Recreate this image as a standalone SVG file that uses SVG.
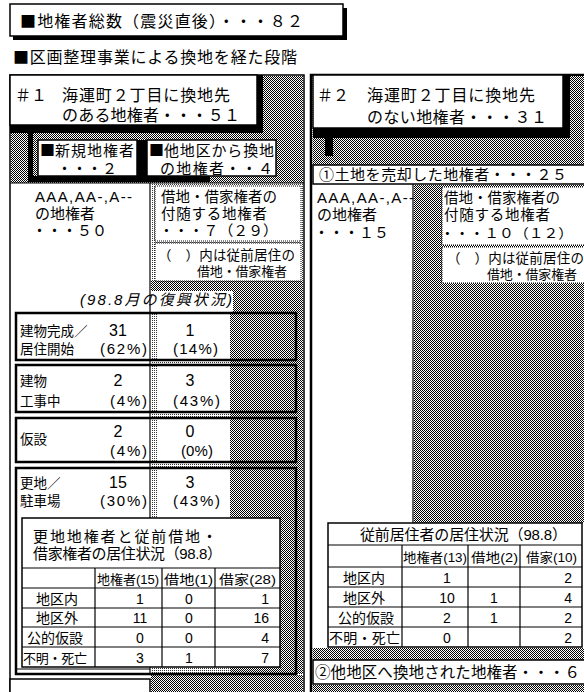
<svg xmlns="http://www.w3.org/2000/svg" width="584" height="692" viewBox="0 0 584 692">
<defs>
<pattern id="dk" width="2" height="2" patternUnits="userSpaceOnUse">
<rect width="2" height="2" fill="#fff"/>
<rect width="1" height="1" fill="#000"/>
<rect x="1" y="1" width="1" height="1" fill="#000"/>
</pattern>
<pattern id="lt" width="2" height="2" patternUnits="userSpaceOnUse">
<rect width="2" height="2" fill="#fff"/>
<rect width="1" height="1" fill="#333"/>
</pattern>
<style>
text { font-family: "Liberation Sans", "Noto Sans CJK JP", "Noto Sans CJK SC", sans-serif; fill: #000; }
.sq { font-family: "Noto Sans CJK JP", "Noto Sans CJK SC", sans-serif; }
.f16 { font-size: 16px; }
.f155 { font-size: 15.5px; }
.f15 { font-size: 15px; }
.f145 { font-size: 14.5px; }
.f14 { font-size: 14px; }
.f135 { font-size: 13.5px; }
.f13 { font-size: 13px; }
.it { font-style: italic; }
.c { text-anchor: middle; }
.r { text-anchor: end; }
.box { fill: #fff; stroke: #000; stroke-width: 1.5; }
.thick { fill: none; stroke: #000; stroke-width: 2.5; }
.dot { fill: #fff; stroke: #000; stroke-width: 1; stroke-dasharray: 1 1; }
.dk { fill: url(#dk); }
.lt { fill: url(#lt); }
.blk { fill: #000; }
.ln { stroke: #000; stroke-width: 1.2; fill: none; }
.wh { fill: #fff; }
</style>
</defs>
<rect width="584" height="692" fill="#fff"/>

<g id="total">
<rect class="blk" x="13" y="8" width="334" height="32"/>
<rect class="box" x="10" y="4" width="333" height="32"/>
<text class="f16" x="20" y="27" textLength="283" lengthAdjust="spacing"><tspan class="sq">■</tspan>地権者総数（震災直後）・・・８２</text>
</g>

<g id="section-title">
<text class="f16" x="13" y="63" textLength="284" lengthAdjust="spacing"><tspan class="sq">■</tspan>区画整理事業による換地を経た段階</text>
</g>

<g id="panel-1">
<rect x="10" y="75" width="294" height="630" fill="#fff" stroke="#000" stroke-width="1.5"/>
<rect class="dk" x="11" y="76" width="292" height="107"/>
<rect class="blk" x="10" y="75" width="253" height="58"/>
<rect class="blk" x="28" y="133" width="5" height="48"/>
<rect class="blk" x="28" y="176" width="182" height="6"/>
<rect class="blk" x="137" y="140" width="10" height="42"/>
<line class="ln" x1="10" y1="183" x2="304" y2="183"/>
<rect class="lt" x="151" y="184" width="152" height="97"/>
<rect class="dk" x="151" y="281" width="152" height="10"/>
<rect class="dk" x="233" y="291" width="70" height="22"/>
<rect class="lt" x="151" y="313" width="79" height="361"/>
<rect class="dk" x="230" y="313" width="73" height="361"/>
<rect class="dk" x="151" y="675" width="152" height="20"/>
<line class="ln" x1="150" y1="183" x2="150" y2="674"/>
<rect class="box" x="10" y="679" width="140" height="20"/>
</g>

<g id="p1-header">
<rect class="box" x="10" y="75" width="247" height="50"/>
<text class="f16"><tspan x="15" y="101">＃１</tspan><tspan x="62" y="101" textLength="168" lengthAdjust="spacing">海運町２丁目に換地先</tspan><tspan x="62" y="121" textLength="178" lengthAdjust="spacing">のある地権者・・・５１</tspan></text>
</g>

<g id="p1-new-owners">
<rect class="box" x="38" y="140" width="99" height="36"/>
<text class="f15"><tspan x="40" y="156" class="sq">■</tspan><tspan textLength="79" lengthAdjust="spacing">新規地権者</tspan><tspan x="57" y="174">・・・２</tspan></text>
</g>

<g id="p1-other-district">
<rect class="box" x="147" y="140" width="129" height="36"/>
<text class="f15"><tspan x="149" y="156" class="sq">■</tspan><tspan textLength="110" lengthAdjust="spacing">他地区から換地</tspan><tspan x="160" y="174" textLength="113" lengthAdjust="spacing">の地権者・・４</tspan></text>
</g>

<g id="p1-aaa">
<text class="f15"><tspan x="35" y="202" textLength="97" lengthAdjust="spacing">AAA,AA-,A--</tspan><tspan x="35" y="219">の地権者</tspan><tspan x="32" y="236">・・・５０</tspan></text>
</g>

<g id="p1-lease">
<rect class="dot" x="155" y="186" width="146" height="55"/>
<text class="f145"><tspan x="161" y="202" textLength="116" lengthAdjust="spacingAndGlyphs">借地・借家権者の</tspan><tspan x="161" y="219" textLength="106" lengthAdjust="spacing">付随する地権者</tspan><tspan x="159" y="236" textLength="119" lengthAdjust="spacingAndGlyphs">・・・７（２９）</tspan></text>
</g>

<g id="p1-note">
<rect class="dot" x="155" y="243" width="146" height="38"/>
<text class="f135"><tspan x="158" y="260" textLength="137" lengthAdjust="spacing">（　）内は従前居住の</tspan><tspan x="197" y="276" textLength="90" lengthAdjust="spacing" style="font-size:13px">借地・借家権者</tspan></text>
</g>

<g id="recovery-title">
<text class="f15 it" x="80" y="305" textLength="152" lengthAdjust="spacing">(98.8月の復興状況)</text>
</g>

<g id="row-1">
<rect class="wh" x="158" y="314" width="72" height="45"/>
<rect class="thick" x="16" y="313" width="280" height="47"/>
<text class="f135"><tspan x="20" y="336">建物完成／</tspan><tspan x="20" y="354">居住開始</tspan></text>
<text class="f15"><tspan class="c" x="118" y="336" style="font-size:16px">31</tspan><tspan x="100" y="354" textLength="47" lengthAdjust="spacing">(62%)</tspan></text>
<text class="f15"><tspan class="c" x="190" y="336" style="font-size:16px">1</tspan><tspan x="173" y="354" textLength="45" lengthAdjust="spacing">(14%)</tspan></text>
</g>

<g id="row-2">
<rect class="wh" x="158" y="366" width="72" height="45"/>
<rect class="thick" x="16" y="365" width="280" height="47"/>
<text class="f135"><tspan x="20" y="386">建物</tspan><tspan x="20" y="406">工事中</tspan></text>
<text class="f15"><tspan class="c" x="118" y="386" style="font-size:16px">2</tspan><tspan x="110" y="406" textLength="37" lengthAdjust="spacing">(4%)</tspan></text>
<text class="f15"><tspan class="c" x="190" y="386" style="font-size:16px">3</tspan><tspan x="173" y="406" textLength="47" lengthAdjust="spacing">(43%)</tspan></text>
</g>

<g id="row-3">
<rect class="wh" x="158" y="419" width="72" height="42"/>
<rect class="thick" x="16" y="418" width="280" height="44"/>
<text class="f135" x="20" y="444">仮設</text>
<text class="f15"><tspan class="c" x="118" y="437" style="font-size:16px">2</tspan><tspan x="110" y="456" textLength="37" lengthAdjust="spacing">(4%)</tspan></text>
<text class="f15"><tspan class="c" x="190" y="437" style="font-size:16px">0</tspan><tspan x="181" y="456" textLength="32" lengthAdjust="spacing">(0%)</tspan></text>
</g>

<g id="row-4">
<rect class="wh" x="158" y="469" width="72" height="48"/>
<rect class="wh" x="17" y="517" width="8" height="156"/>
<rect class="thick" x="16" y="468" width="280" height="206"/>
<line class="ln" x1="16" y1="669" x2="150" y2="669"/>
<text class="f135"><tspan x="20" y="488">更地／</tspan><tspan x="20" y="506">駐車場</tspan></text>
<text class="f15"><tspan class="c" x="118" y="488" style="font-size:16px">15</tspan><tspan x="100" y="506" textLength="47" lengthAdjust="spacing">(30%)</tspan></text>
<text class="f15"><tspan class="c" x="190" y="488" style="font-size:16px">3</tspan><tspan x="173" y="506" textLength="47" lengthAdjust="spacing">(43%)</tspan></text>
</g>

<g id="table-1">
<rect class="box" x="22" y="518" width="258" height="149"/>
<line class="ln" x1="22" y1="568" x2="280" y2="568"/>
<line class="ln" x1="22" y1="588" x2="280" y2="588"/>
<line class="ln" x1="22" y1="608" x2="280" y2="608"/>
<line class="ln" x1="22" y1="627" x2="280" y2="627"/>
<line class="ln" x1="22" y1="647" x2="280" y2="647"/>
<line class="ln" x1="95" y1="568" x2="95" y2="667"/>
<line class="ln" x1="162" y1="568" x2="162" y2="667"/>
<line class="ln" x1="215" y1="568" x2="215" y2="667"/>
<text class="f15"><tspan x="33" y="542" textLength="184" lengthAdjust="spacing">更地地権者と従前借地・</tspan><tspan x="33" y="559" textLength="189" lengthAdjust="spacing">借家権者の居住状況（98.8）</tspan></text>
<text class="f13"><tspan x="97" y="584" textLength="62" lengthAdjust="spacingAndGlyphs">地権者(15)</tspan><tspan x="164" y="584" textLength="49" lengthAdjust="spacingAndGlyphs">借地(1)</tspan><tspan x="219" y="584" textLength="57" lengthAdjust="spacingAndGlyphs">借家(28)</tspan></text>
<text class="f14"><tspan class="c" x="57" y="604">地区内</tspan><tspan class="c" x="57" y="623">地区外</tspan><tspan class="c" x="55" y="643">公的仮設</tspan><tspan x="23" y="663" textLength="64" lengthAdjust="spacing" style="font-size:13px">不明・死亡</tspan></text>
<text class="f14 c"><tspan x="140" y="604">1</tspan><tspan x="140" y="623">11</tspan><tspan x="140" y="643">0</tspan><tspan x="140" y="663">3</tspan></text>
<text class="f14 c"><tspan x="189" y="604">0</tspan><tspan x="189" y="623">0</tspan><tspan x="189" y="643">0</tspan><tspan x="189" y="663">1</tspan></text>
<text class="f14 r"><tspan x="269" y="604">1</tspan><tspan x="269" y="623">16</tspan><tspan x="269" y="643">4</tspan><tspan x="269" y="663">7</tspan></text>
</g>

<g id="panel-2">
<rect x="311" y="75" width="280" height="630" fill="#fff" stroke="#000" stroke-width="2.5"/>
<rect class="dk" x="312.5" y="76" width="272" height="89"/>
<rect class="blk" x="313" y="75" width="257" height="63"/>
<rect class="blk" x="325" y="138" width="8" height="18"/>
<rect class="dk" x="414" y="185" width="170" height="338"/>
<line class="ln" x1="413" y1="184" x2="413" y2="523"/>
<rect class="dk" x="312.5" y="648" width="272" height="12"/>
<rect class="dk" x="312.5" y="685" width="272" height="7"/>
</g>

<g id="p2-header">
<rect class="box" x="313" y="75" width="250" height="53"/>
<text class="f16"><tspan x="317" y="101">＃２</tspan><tspan x="367" y="101" textLength="168" lengthAdjust="spacing">海運町２丁目に換地先</tspan><tspan x="367" y="123" textLength="180" lengthAdjust="spacing">のない地権者・・・３１</tspan></text>
</g>

<g id="p2-sold">
<rect class="box" x="313" y="165" width="275" height="19"/>
<text class="f15" x="319" y="180" textLength="248" lengthAdjust="spacing">①土地を売却した地権者・・・２５</text>
</g>

<g id="p2-aaa">
<text class="f15"><tspan x="317" y="203" textLength="97" lengthAdjust="spacing">AAA,AA-,A--</tspan><tspan x="317" y="220">の地権者</tspan><tspan x="314" y="238">・・・１５</tspan></text>
</g>

<g id="p2-lease">
<rect class="dot" x="442" y="187" width="145" height="58"/>
<text class="f145"><tspan x="444" y="203" textLength="116" lengthAdjust="spacingAndGlyphs">借地・借家権者の</tspan><tspan x="444" y="220" textLength="106" lengthAdjust="spacing">付随する地権者</tspan><tspan x="440" y="238" textLength="133" lengthAdjust="spacingAndGlyphs" style="font-size:13.5px">・・・１０（１２）</tspan></text>
</g>

<g id="p2-note">
<rect class="dot" x="442" y="247" width="145" height="36"/>
<text class="f135"><tspan x="447" y="263" textLength="137" lengthAdjust="spacing">（　）内は従前居住の</tspan><tspan x="487" y="279" textLength="90" lengthAdjust="spacing" style="font-size:13px">借地・借家権者</tspan></text>
</g>

<g id="table-2">
<rect class="box" x="328" y="523" width="254" height="124"/>
<line class="ln" x1="328" y1="545" x2="582" y2="545"/>
<line class="ln" x1="328" y1="567" x2="582" y2="567"/>
<line class="ln" x1="328" y1="587" x2="582" y2="587"/>
<line class="ln" x1="328" y1="607" x2="582" y2="607"/>
<line class="ln" x1="328" y1="627" x2="582" y2="627"/>
<line class="ln" x1="402" y1="545" x2="402" y2="647"/>
<line class="ln" x1="468" y1="545" x2="468" y2="647"/>
<line class="ln" x1="520" y1="545" x2="520" y2="647"/>
<text class="f15" x="360" y="540" textLength="207" lengthAdjust="spacing">従前居住者の居住状況（98.8）</text>
<text class="f13"><tspan x="403" y="562" textLength="64" lengthAdjust="spacingAndGlyphs">地権者(13)</tspan><tspan x="471" y="562" textLength="47" lengthAdjust="spacingAndGlyphs">借地(2)</tspan><tspan x="526" y="562" textLength="51" lengthAdjust="spacingAndGlyphs">借家(10)</tspan></text>
<text class="f14"><tspan class="c" x="364" y="583">地区内</tspan><tspan class="c" x="364" y="603">地区外</tspan><tspan class="c" x="366" y="623">公的仮設</tspan><tspan x="329" y="643" textLength="71" lengthAdjust="spacing">不明・死亡</tspan></text>
<text class="f14 c"><tspan x="447" y="583">1</tspan><tspan x="447" y="603">10</tspan><tspan x="447" y="623">2</tspan><tspan x="447" y="643">0</tspan></text>
<text class="f14 c"><tspan x="494" y="603">1</tspan><tspan x="494" y="623">1</tspan></text>
<text class="f14 r"><tspan x="572" y="583">2</tspan><tspan x="572" y="603">4</tspan><tspan x="572" y="623">2</tspan><tspan x="572" y="643">2</tspan></text>
</g>

<g id="p2-other-exchange">
<rect class="box" x="313" y="660" width="275" height="24"/>
<text class="f155" x="315" y="678" textLength="265" lengthAdjust="spacing">②他地区へ換地された地権者・・・６</text>
</g>

<g id="connectors"/>
</svg>
